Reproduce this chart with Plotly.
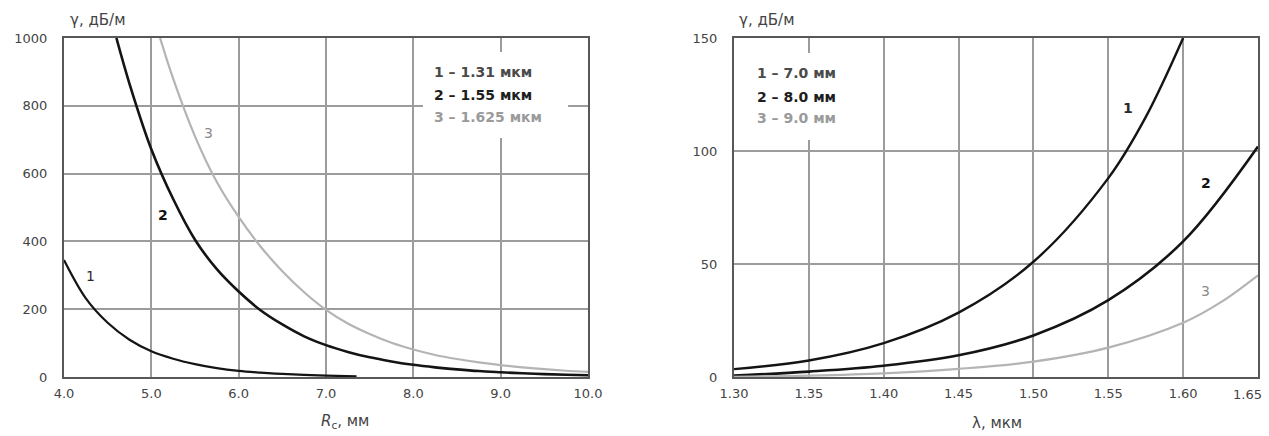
import plotly.graph_objects as go

# ---------- data: left panel (gamma vs core radius) ----------
r1_x = [4.0, 4.25, 4.5, 4.75, 5.0, 5.25, 5.5, 5.75, 6.0, 6.25, 6.5, 6.75, 7.0, 7.35]
r1_y = [345, 232, 160, 110, 76, 54, 38, 26, 18, 13, 9, 6, 4, 2]
r2_x = [4.6, 4.75, 5.0, 5.25, 5.5, 5.75, 6.0, 6.25, 6.5, 6.75, 7.0, 7.25, 7.5, 7.75, 8.0,
        8.25, 8.5, 8.75, 9.0, 9.25, 9.5, 9.75, 10.0]
r2_y = [1000, 865, 672, 525, 405, 318, 252, 197, 155, 120, 94, 74, 58, 46, 36,
        28.5, 22.5, 17.5, 14, 11, 8.5, 6.5, 5]
r3_x = [5.1, 5.25, 5.5, 5.75, 6.0, 6.25, 6.5, 6.75, 7.0, 7.25, 7.5, 7.75, 8.0,
        8.25, 8.5, 8.75, 9.0, 9.25, 9.5, 9.75, 10.0]
r3_y = [1000, 880, 710, 575, 472, 385, 312, 250, 198, 158, 127, 101, 81,
        65, 53, 43, 35, 28.5, 23, 18.5, 15]

# ---------- data: right panel (gamma vs wavelength) ----------
l1_x = [1.30, 1.35, 1.40, 1.45, 1.50, 1.55, 1.575, 1.60]
l1_y = [3.5, 7.3, 15, 28.5, 51, 88, 115, 150]
l2_x = [1.30, 1.35, 1.40, 1.45, 1.50, 1.55, 1.60, 1.65]
l2_y = [0.6, 2.4, 5, 9.6, 18.4, 34, 60, 102]
l3_x = [1.30, 1.35, 1.40, 1.45, 1.50, 1.55, 1.60, 1.625, 1.65]
l3_y = [0.1, 0.6, 1.6, 3.6, 6.8, 13, 24, 33, 45]

left_xticks = [4.0, 5.0, 6.0, 7.0, 8.0, 9.0, 10.0]
left_xtext = ["4.0", "5.0", "6.0", "7.0", "8.0", "9.0", "10.0"]
left_yticks = [0, 200, 400, 600, 800, 1000]
right_xticks = [1.30, 1.35, 1.40, 1.45, 1.50, 1.55, 1.60, 1.65]
right_xtext = ["1.30", "1.35", "1.40", "1.45", "1.50", "1.55", "1.60", "1.65"]
right_yticks = [0, 50, 100, 150]

left_legend = ["1 – 1.31 мкм", "2 – 1.55 мкм", "3 – 1.625 мкм"]
right_legend = ["1 – 7.0 мм", "2 – 8.0 мм", "3 – 9.0 мм"]
legend_colors = ["#4a4a4a", "#1e1e1e", "#9a9a9a"]

BLACK = "#141414"
GRAY = "#b4b4b4"
FONT = "DejaVu Sans"
TICKFONT = dict(family=FONT, size=13, color="#444444")
W, H = 1269, 436

fig = go.Figure()
for xs, ys, col, w in [(r1_x, r1_y, BLACK, 2.2), (r2_x, r2_y, BLACK, 2.6), (r3_x, r3_y, GRAY, 2.2)]:
    fig.add_trace(go.Scatter(x=xs, y=ys, mode="lines", line=dict(color=col, width=w, shape="spline", smoothing=1.0),
                             xaxis="x", yaxis="y", showlegend=False, hoverinfo="skip"))
for xs, ys, col, w in [(l1_x, l1_y, BLACK, 2.4), (l2_x, l2_y, BLACK, 2.6), (l3_x, l3_y, GRAY, 2.2)]:
    fig.add_trace(go.Scatter(x=xs, y=ys, mode="lines", line=dict(color=col, width=w, shape="spline", smoothing=1.0),
                             xaxis="x2", yaxis="y2", showlegend=False, hoverinfo="skip"))


def px_x(p):
    return p / W


def px_y(p):
    return 1 - p / H


axis_common = dict(showgrid=True, gridcolor="#9c9c9c", gridwidth=1.5, showline=True, mirror=True,
                   linecolor="#585858", linewidth=2, ticks="", zeroline=False, automargin=False,
                   ticklabeloverflow="allow", tickfont=TICKFONT)

# the last right-hand tick label is drawn separately, pulled left as in the original
right_xtext_axis = right_xtext[:-1] + [""]

ydom = [px_y(377), px_y(38)]
fig.update_layout(
    width=W, height=H, margin=dict(l=0, r=0, t=0, b=0, autoexpand=False),
    paper_bgcolor="white", plot_bgcolor="white",
    xaxis=dict(domain=[px_x(64), px_x(588)], range=[4.0, 10.0], tickvals=left_xticks, ticktext=left_xtext,
               anchor="y", ticklabelstandoff=3, **axis_common),
    yaxis=dict(domain=ydom, range=[0, 1000], tickvals=left_yticks, anchor="x", ticklabelstandoff=12, **axis_common),
    xaxis2=dict(domain=[px_x(734), px_x(1258)], range=[1.30, 1.65], tickvals=right_xticks, ticktext=right_xtext_axis,
                anchor="y2", ticklabelstandoff=3, **axis_common),
    yaxis2=dict(domain=ydom, range=[0, 150], tickvals=right_yticks, anchor="x2", ticklabelstandoff=12, **axis_common),
)

# white boxes behind the legend texts (break the grid lines)
fig.add_shape(type="rect", xref="x domain", yref="y domain", x0=0.685, x1=0.962, y0=0.705, y1=0.959,
              fillcolor="white", line_width=0, layer="above")
fig.add_shape(type="rect", xref="x2 domain", yref="y2 domain", x0=0.021, x1=0.269, y0=0.699, y1=0.956,
              fillcolor="white", line_width=0, layer="above")

ann = []
# last tick label of the right x axis
ann.append(dict(x=px_x(1264), y=px_y(385), xref="paper", yref="paper", xanchor="right", yanchor="top",
                text=right_xtext[-1], showarrow=False, font=TICKFONT))
# legend texts
for i, (t, c) in enumerate(zip(left_legend, legend_colors)):
    ann.append(dict(x=px_x(432), y=px_y([72, 95, 117][i]), xref="paper", yref="paper", xanchor="left",
                    yanchor="middle", text="<b>%s</b>" % t, showarrow=False,
                    font=dict(family=FONT, size=14, color=c)))
for i, (t, c) in enumerate(zip(right_legend, legend_colors)):
    ann.append(dict(x=px_x(755), y=px_y([73, 97, 118][i]), xref="paper", yref="paper", xanchor="left",
                    yanchor="middle", text="<b>%s</b>" % t, showarrow=False,
                    font=dict(family=FONT, size=14, color=c)))

# curve labels
curve_lbls = [
    ("x", "y", 4.30, 298, "1", "#2a2a2a", False),
    ("x", "y", 5.13, 478, "2", "#111111", True),
    ("x", "y", 5.66, 720, "3", "#8a8a8a", False),
    ("x2", "y2", 1.563, 119, "1", "#2a2a2a", True),
    ("x2", "y2", 1.615, 86, "2", "#111111", True),
    ("x2", "y2", 1.615, 38, "3", "#8a8a8a", False),
]
for xr, yr, xv, yv, t, c, b in curve_lbls:
    ann.append(dict(x=xv, y=yv, xref=xr, yref=yr, text=("<b>%s</b>" % t) if b else t, showarrow=False,
                    font=dict(family=FONT, size=14, color=c)))

# axis titles
for xp in (68, 737):
    ann.append(dict(x=px_x(xp), y=px_y(20), xref="paper", yref="paper", xanchor="left", yanchor="middle",
                    text="γ, дБ/м", showarrow=False, font=dict(family=FONT, size=15, color="#444444")))
ann.append(dict(x=px_x(345), y=px_y(421), xref="paper", yref="paper", xanchor="center", yanchor="middle",
                text="<i>R</i><sub>c</sub>, мм", showarrow=False, font=dict(family=FONT, size=15, color="#444444")))
ann.append(dict(x=px_x(997), y=px_y(423), xref="paper", yref="paper", xanchor="center", yanchor="middle",
                text="λ, мкм", showarrow=False, font=dict(family=FONT, size=15, color="#444444")))

fig.update_layout(annotations=ann)
fig.write_html("out.html", config={"displayModeBar": False},
               post_script="document.body.style.margin='0px';document.body.style.overflow='hidden';")
